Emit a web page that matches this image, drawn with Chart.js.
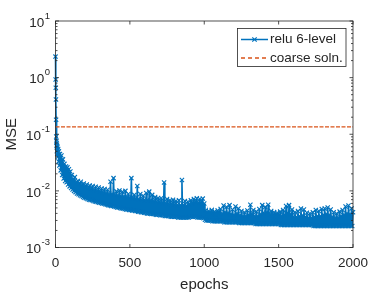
<!DOCTYPE html>
<html lang="en">

<head>
    <meta charset="UTF-8">
    <title>MSE vs epochs</title>
    <script src="https://cdn.jsdelivr.net/npm/chart.js"></script>
    <style>
        body {
            margin: 0;
            padding: 0;
            background-color: #ffffff;
        }
    </style>
</head>

<body>
    <canvas id="mseChart" width="390" height="293"></canvas>

    <script>
        // values (noisy band: alternating low / high samples)
        const epochs = [
            0, 1, 2, 3, 4, 5, 6, 7, 8, 9, 10, 12, 14, 16, 18, 20, 23, 26, 30, 35,
            40, 45, 50, 55, 60, 65, 70, 75, 80, 85, 90, 95, 100,
            105, 110, 115, 120, 125, 130, 135, 140, 145, 150, 155, 160, 165, 170, 175, 180, 185, 190, 195, 200,
            205, 210, 215, 220, 225, 230, 235, 240, 245, 250, 255, 260, 265, 270, 275, 280, 285, 290, 295, 300,
            305, 310, 315, 320, 325, 330, 335, 340, 345, 350, 355, 360, 365, 370, 375, 380, 385, 390, 395, 400,
            405, 410, 415, 420, 425, 430, 435, 440, 445, 450, 455, 460, 465, 470, 475, 480, 485, 490, 495, 500,
            505, 510, 515, 520, 525, 530, 535, 540, 545, 550, 555, 560, 565, 570, 575, 580, 585, 590, 595, 600,
            605, 610, 615, 620, 625, 630, 635, 640, 645, 650, 655, 660, 665, 670, 675, 680, 685, 690, 695, 700,
            705, 710, 715, 720, 725, 730, 735, 740, 745, 750, 755, 760, 765, 770, 775, 780, 785, 790, 795, 800,
            805, 810, 815, 820, 825, 830, 835, 840, 845, 850, 855, 860, 865, 870, 875, 880, 885, 890, 895, 900,
            905, 910, 915, 920, 925, 930, 935, 940, 945, 950, 955, 960, 965, 970, 975, 980, 985, 990, 995, 1000,
            1005, 1010, 1015, 1020, 1025, 1030, 1035, 1040, 1045, 1050, 1055, 1060, 1065, 1070, 1075, 1080, 1085, 1090, 1095, 1100,
            1105, 1110, 1115, 1120, 1125, 1130, 1135, 1140, 1145, 1150, 1155, 1160, 1165, 1170, 1175, 1180, 1185, 1190, 1195, 1200,
            1205, 1210, 1215, 1220, 1225, 1230, 1235, 1240, 1245, 1250, 1255, 1260, 1265, 1270, 1275, 1280, 1285, 1290, 1295, 1300,
            1305, 1310, 1315, 1320, 1325, 1330, 1335, 1340, 1345, 1350, 1355, 1360, 1365, 1370, 1375, 1380, 1385, 1390, 1395, 1400,
            1405, 1410, 1415, 1420, 1425, 1430, 1435, 1440, 1445, 1450, 1455, 1460, 1465, 1470, 1475, 1480, 1485, 1490, 1495, 1500,
            1505, 1510, 1515, 1520, 1525, 1530, 1535, 1540, 1545, 1550, 1555, 1560, 1565, 1570, 1575, 1580, 1585, 1590, 1595, 1600,
            1605, 1610, 1615, 1620, 1625, 1630, 1635, 1640, 1645, 1650, 1655, 1660, 1665, 1670, 1675, 1680, 1685, 1690, 1695, 1700,
            1705, 1710, 1715, 1720, 1725, 1730, 1735, 1740, 1745, 1750, 1755, 1760, 1765, 1770, 1775, 1780, 1785, 1790, 1795, 1800,
            1805, 1810, 1815, 1820, 1825, 1830, 1835, 1840, 1845, 1850, 1855, 1860, 1865, 1870, 1875, 1880, 1885, 1890, 1895, 1900,
            1905, 1910, 1915, 1920, 1925, 1930, 1935, 1940, 1945, 1950, 1955, 1960, 1965, 1970, 1975, 1980, 1985, 1990, 1995, 2000
        ];

        const reluMse = [
            2.35, 0.93, 0.66, 0.41, 0.18, 0.091, 0.075, 0.062, 0.07, 0.05, 0.065, 0.045, 0.06, 0.04, 0.055, 0.033, 0.05, 0.028, 0.045, 0.023,
            0.042, 0.019, 0.036, 0.0165, 0.03, 0.015, 0.027, 0.0142, 0.026, 0.013, 0.024, 0.012, 0.022,
            0.0112, 0.019, 0.0106, 0.016, 0.01, 0.0175, 0.0095, 0.0145, 0.009, 0.015, 0.0087, 0.0135, 0.0084, 0.0145, 0.0081, 0.0128, 0.0078, 0.0135, 0.0076, 0.0122,
            0.0074, 0.013, 0.0072, 0.0115, 0.007, 0.0125, 0.0069, 0.011, 0.0068, 0.0122, 0.0066, 0.0105, 0.0065, 0.0118, 0.0064, 0.0102, 0.0063, 0.0115, 0.0062, 0.0098,
            0.0061, 0.011, 0.006, 0.0095, 0.0059, 0.0108, 0.0058, 0.0092, 0.0057, 0.0105, 0.0056, 0.009, 0.0055, 0.0145, 0.0054, 0.0088, 0.0054, 0.0168, 0.0053, 0.0086,
            0.0052, 0.0098, 0.0051, 0.0084, 0.0051, 0.0102, 0.005, 0.0082, 0.0049, 0.0096, 0.0049, 0.008, 0.0048, 0.01, 0.0047, 0.0078, 0.0047, 0.0088, 0.0046, 0.0077,
            0.0046, 0.0168, 0.0045, 0.0075, 0.0045, 0.0085, 0.0044, 0.0074, 0.0044, 0.0122, 0.0043, 0.0072, 0.0043, 0.0088, 0.0042, 0.0071, 0.0042, 0.0082, 0.0041, 0.007,
            0.0041, 0.0092, 0.004, 0.0069, 0.004, 0.0097, 0.004, 0.0068, 0.0039, 0.0085, 0.0039, 0.0066, 0.0039, 0.0078, 0.0038, 0.0065, 0.0038, 0.0075, 0.0038, 0.0064,
            0.0037, 0.0074, 0.0037, 0.0062, 0.0037, 0.014, 0.0036, 0.0061, 0.0036, 0.0072, 0.0036, 0.006, 0.0036, 0.0068, 0.0035, 0.0059, 0.0035, 0.007, 0.0035, 0.0058,
            0.0035, 0.0066, 0.0035, 0.0057, 0.0034, 0.0068, 0.0034, 0.0056, 0.0034, 0.0156, 0.0034, 0.0056, 0.0034, 0.0066, 0.0034, 0.0055, 0.0034, 0.0064, 0.0034, 0.0058,
            0.0035, 0.0068, 0.0035, 0.0062, 0.0035, 0.0072, 0.0035, 0.0064, 0.0035, 0.0074, 0.0034, 0.0063, 0.0034, 0.0072, 0.0034, 0.0064, 0.0034, 0.0073, 0.0033, 0.006,
            0.0031, 0.0045, 0.003, 0.004, 0.003, 0.0044, 0.003, 0.0039, 0.003, 0.0046, 0.0029, 0.0039, 0.0029, 0.0043, 0.0029, 0.0038, 0.0029, 0.0045, 0.0029, 0.0039,
            0.0029, 0.0048, 0.0029, 0.004, 0.0029, 0.0055, 0.0028, 0.0042, 0.0028, 0.0052, 0.0028, 0.0041, 0.0028, 0.0056, 0.0028, 0.0039, 0.0028, 0.0047, 0.0028, 0.0038,
            0.0028, 0.0053, 0.0028, 0.004, 0.0028, 0.0049, 0.0027, 0.0037, 0.0027, 0.0044, 0.0027, 0.0036, 0.0027, 0.0042, 0.0027, 0.0036, 0.0027, 0.0045, 0.0027, 0.0038,
            0.0027, 0.0057, 0.0027, 0.004, 0.0027, 0.0046, 0.0027, 0.0036, 0.0026, 0.0043, 0.0026, 0.0036, 0.0026, 0.0048, 0.0026, 0.0039, 0.0026, 0.0056, 0.0026, 0.0041,
            0.0026, 0.0052, 0.0026, 0.0042, 0.0026, 0.0057, 0.0026, 0.0039, 0.0026, 0.0044, 0.0026, 0.0035, 0.0026, 0.0042, 0.0026, 0.0035, 0.0026, 0.0041, 0.0026, 0.0035,
            0.0026, 0.0043, 0.0025, 0.0036, 0.0025, 0.0046, 0.0025, 0.0038, 0.0025, 0.0054, 0.0025, 0.0041, 0.0025, 0.0056, 0.0025, 0.0039, 0.0025, 0.0047, 0.0025, 0.0035,
            0.0025, 0.0042, 0.0025, 0.0035, 0.0025, 0.0044, 0.0025, 0.0036, 0.0025, 0.0049, 0.0025, 0.0037, 0.0025, 0.0047, 0.0025, 0.0035, 0.0025, 0.0041, 0.0025, 0.0034,
            0.0025, 0.004, 0.0025, 0.0034, 0.0025, 0.0042, 0.0024, 0.0035, 0.0024, 0.0046, 0.0024, 0.0036, 0.0024, 0.0044, 0.0024, 0.0036, 0.0024, 0.0048, 0.0024, 0.0038,
            0.0024, 0.0049, 0.0024, 0.0039, 0.0024, 0.0051, 0.0024, 0.0038, 0.0024, 0.0047, 0.0024, 0.0035, 0.0024, 0.0042, 0.0024, 0.0034, 0.0024, 0.004, 0.0024, 0.0034,
            0.0024, 0.0043, 0.0024, 0.0036, 0.0024, 0.0046, 0.0024, 0.0038, 0.0024, 0.0053, 0.0024, 0.004, 0.0024, 0.0055, 0.0024, 0.0039, 0.0024, 0.0049, 0.0024, 0.0042
        ];

        const coarseEpochs = [0, 2000];
        const coarseMse = [0.135, 0.135];

        const xTicks = [0, 500, 1000, 1500, 2000];
        const yExponents = [1, 0, -1, -2, -3];
        const seriesNames = ['relu 6-level', 'coarse soln.'];

        const BLUE = '#0072BD';
        const ORANGE = '#D95319';
        const INK = '#262626';
        const FONT = '"Liberation Sans", Arial, sans-serif';

        function line(ctx, x1, y1, x2, y2) {
            ctx.beginPath();
            ctx.moveTo(x1, y1);
            ctx.lineTo(x2, y2);
            ctx.stroke();
        }

        // matlab style box, inward ticks, labels and legend
        const matlabAxes = {
            id: 'matlabAxes',
            afterDraw(chart) {
                const { ctx, chartArea: a, scales } = chart;
                const xs = scales.x, ys = scales.y;
                ctx.save();
                ctx.strokeStyle = INK;
                ctx.fillStyle = INK;
                ctx.lineWidth = 0.8;
                ctx.setLineDash([]);
                ctx.strokeRect(a.left, a.top, a.right - a.left, a.bottom - a.top);

                ctx.font = '13.5px ' + FONT;
                ctx.textAlign = 'center';
                ctx.textBaseline = 'middle';
                xTicks.forEach(v => {
                    const px = xs.getPixelForValue(v);
                    line(ctx, px, a.bottom, px, a.bottom - 3.5);
                    line(ctx, px, a.top, px, a.top + 3.5);
                    ctx.fillText(String(v), px, a.bottom + 16);
                });

                for (let e = -3; e < 1; e++) {
                    for (let m = 2; m <= 9; m++) {
                        const py = ys.getPixelForValue(m * Math.pow(10, e));
                        line(ctx, a.left, py, a.left + 2, py);
                        line(ctx, a.right, py, a.right - 2, py);
                    }
                }

                yExponents.forEach(e => {
                    const py = ys.getPixelForValue(Math.pow(10, e));
                    line(ctx, a.left, py, a.left + 3.5, py);
                    line(ctx, a.right, py, a.right - 3.5, py);
                    ctx.font = '9.5px ' + FONT;
                    const expText = String(e);
                    const expW = ctx.measureText(expText).width;
                    ctx.textAlign = 'right';
                    ctx.fillText(expText, a.left - 5.5, py - 5);
                    ctx.font = '13.5px ' + FONT;
                    ctx.fillText('10', a.left - 5.5 - expW - 0.5, py + 2);
                });

                ctx.font = '15px ' + FONT;
                ctx.textAlign = 'center';
                ctx.fillText('epochs', (a.left + a.right) / 2, a.bottom + 37);
                ctx.save();
                ctx.translate(12, (a.top + a.bottom) / 2);
                ctx.rotate(-Math.PI / 2);
                ctx.fillText('MSE', 0, 0);
                ctx.restore();

                // legend
                const lx = 237.5, ly = 28.5, lw = 108.5, lh = 38;
                ctx.fillStyle = '#ffffff';
                ctx.fillRect(lx, ly, lw, lh);
                ctx.strokeStyle = INK;
                ctx.lineWidth = 0.8;
                ctx.strokeRect(lx, ly, lw, lh);

                ctx.strokeStyle = BLUE;
                ctx.lineWidth = 1.5;
                line(ctx, 241, 39.5, 268, 39.5);
                ctx.lineWidth = 1.2;
                line(ctx, 252.3, 37.3, 256.7, 41.7);
                line(ctx, 252.3, 41.7, 256.7, 37.3);

                ctx.strokeStyle = ORANGE;
                ctx.lineWidth = 1.3;
                ctx.setLineDash([4, 3]);
                line(ctx, 241, 58, 268, 58);
                ctx.setLineDash([]);

                ctx.fillStyle = INK;
                ctx.font = '13.5px ' + FONT;
                ctx.textAlign = 'left';
                ctx.fillText(seriesNames[0], 270, 39.5);
                ctx.fillText(seriesNames[1], 270, 58);
                ctx.restore();
            }
        };

        const ctx = document.getElementById('mseChart').getContext('2d');
        new Chart(ctx, {
            type: 'line',
            data: {
                datasets: [{
                    label: seriesNames[0],
                    data: epochs.map((e, i) => ({ x: e, y: reluMse[i] })),
                    borderColor: BLUE,
                    backgroundColor: BLUE,
                    borderWidth: 1.6,
                    pointStyle: 'crossRot',
                    pointRadius: 3,
                    pointBorderWidth: 1.1,
                    pointBorderColor: BLUE,
                    tension: 0,
                    clip: false,
                    order: 2
                }, {
                    label: seriesNames[1],
                    data: coarseEpochs.map((e, i) => ({ x: e, y: coarseMse[i] })),
                    borderColor: ORANGE,
                    borderWidth: 1.3,
                    borderDash: [4, 1.5],
                    pointRadius: 0,
                    tension: 0,
                    order: 1
                }]
            },
            options: {
                responsive: false,
                animation: false,
                events: [],
                layout: {
                    padding: { left: 55.5, right: 37, top: 21, bottom: 45.5 }
                },
                scales: {
                    x: { type: 'linear', min: 0, max: 2000, display: false },
                    y: { type: 'logarithmic', min: 0.001, max: 10, display: false }
                },
                plugins: {
                    legend: { display: false },
                    tooltip: { enabled: false }
                }
            },
            plugins: [matlabAxes]
        });
    </script>
</body>

</html>
